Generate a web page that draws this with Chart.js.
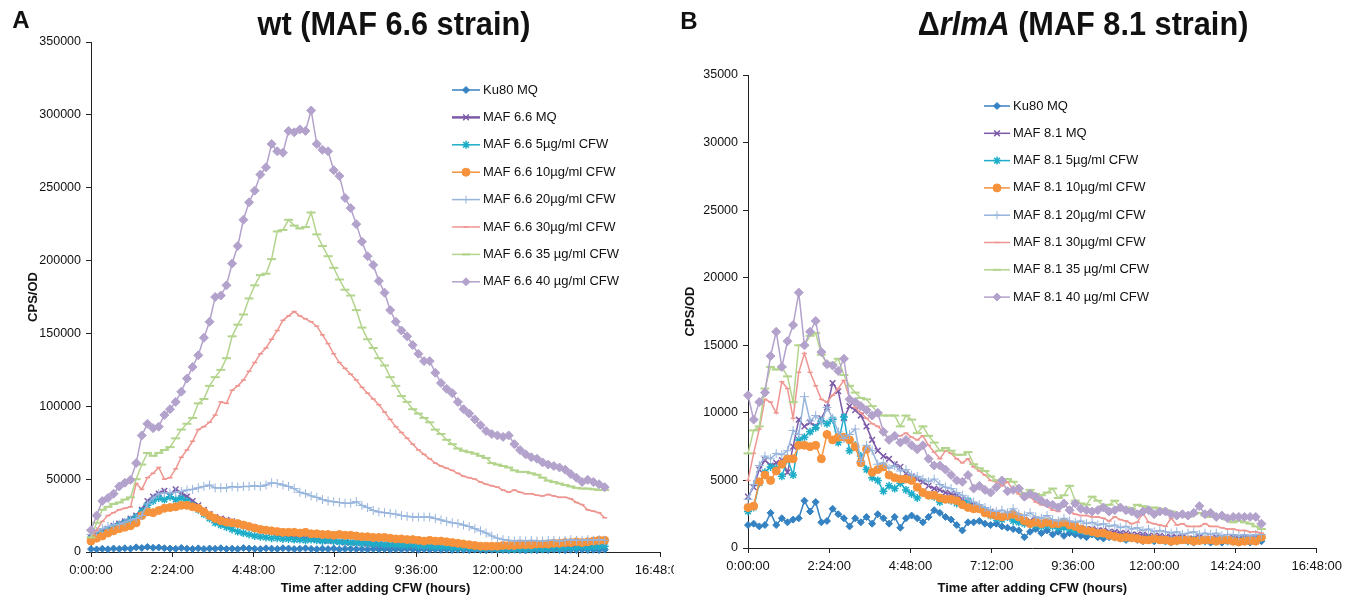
<!DOCTYPE html>
<html>
<head>
<meta charset="utf-8">
<script src="https://cdn.jsdelivr.net/npm/chart.js@4/dist/chart.umd.min.js"></script>
<style>
  html, body { margin: 0; padding: 0; background: #fff; }
  body { width: 1348px; height: 596px; position: relative; overflow: hidden; font-family: "Liberation Sans", Arial, sans-serif; color: #111; }
  canvas { position: absolute; top: 0; background: #fff; }
  #chartA { left: 0; z-index: 1; }
  #chartB { left: 674px; z-index: 2; }
  .lbl { position: absolute; font-weight: bold; white-space: nowrap; transform: translate(-50%, -50%); z-index: 3; }
  .panel { font-size: 24px; }
  .title { font-size: 33px; transform: translate(-50%, -50%) scaleX(0.93); }
</style>
</head>
<body>
<div class="lbl panel" style="left:21px; top:20px;">A</div>
<div class="lbl title" style="left:394px; top:24px;">wt (MAF 6.6 strain)</div>
<div class="lbl panel" style="left:689px; top:21px;">B</div>
<div class="lbl title" style="left:1083px; top:24px;">Δ<i>rlmA</i> (MAF 8.1 strain)</div>
<canvas id="chartA" width="700" height="596"></canvas>
<canvas id="chartB" width="674" height="596"></canvas>
<script>
// ============================================================
// DATA - sampling times (minutes after adding CFW) and ticks
// ============================================================
const minutes = [0,10,20,30,40,50,60,70,80,90, 100,110,120,130,140,150,160,170,180,190,
  200,210,220,230,240,250,260,270,280,290, 300,310,320,330,340,350,360,370,380,390,
  400,410,420,430,440,450,460,470,480,490, 500,510,520,530,540,550,560,570,580,590,
  600,610,620,630,640,650,660,670,680,690, 700,710,720,730,740,750,760,770,780,790,
  800,810,820,830,840,850,860,870,880,890, 900,910];
const xTickMinutes = [0, 144, 288, 432, 576, 720, 864, 1008];
const xTickLabels = ['0:00:00', '2:24:00', '4:48:00', '7:12:00', '9:36:00', '12:00:00', '14:24:00', '16:48:00'];
const yTicksA = [0, 50000, 100000, 150000, 200000, 250000, 300000, 350000];
const yTicksB = [0, 5000, 10000, 15000, 20000, 25000, 30000, 35000];

const labelsA = ['Ku80 MQ', 'MAF 6.6 MQ', 'MAF 6.6 5µg/ml CFW', 'MAF 6.6 10µg/ml CFW', 'MAF 6.6 20µg/ml CFW', 'MAF 6.6 30µg/ml CFW', 'MAF 6.6 35 µg/ml CFW', 'MAF 6.6 40 µg/ml CFW'];
const labelsB = ['Ku80 MQ', 'MAF 8.1 MQ', 'MAF 8.1 5µg/ml CFW', 'MAF 8.1 10µg/ml CFW', 'MAF 8.1 20µg/ml CFW', 'MAF 8.1 30µg/ml CFW', 'MAF 8.1 35 µg/ml CFW', 'MAF 8.1 40 µg/ml CFW'];

// panel A (wt, MAF 6.6) - CPS/OD
const aKu80 = [2000,1800,2200,1900,2400,2100,2600,2300,3200,2800,
  3500,2900,3100,2600,2400,2200,2800,2300,2100,2500,
  2000,2400,2200,2600,2100,2300,2000,2700,2400,2200,
  2000,2500,2300,2100,2600,2400,2000,2200,2500,2100,
  1900,2300,2000,2400,1800,2100,2200,1900,2000,1700,
  2100,1800,2000,1600,1900,1700,2000,1800,1500,1900,
  1600,1800,1500,1700,1400,1600,1500,1300,1600,1400,
  1200,1500,1300,1400,1200,1500,1300,1100,1400,1200,
  1500,1300,1600,1400,1200,1500,1300,1600,1400,1500,
  1300,1600];
const aMQ = [10000,12000,14000,16000,18000,19500,21000,23000,25000,29000,
  35000,38000,40000,42000,39000,43000,40000,38000,35000,32000,
  29000,26000,24000,23000,22000,21000,19500,18500,17500,16500,
  15500,14500,13500,12500,12000,11000,10500,10000,9500,9000,
  8500,8000,7500,7500,7000,6500,6500,6000,6000,5500,
  5500,5000,5000,4500,5000,4500,4500,4000,4500,4000,
  4000,4000,3500,3500,3500,3000,3000,3000,2500,2500,
  2500,2500,2500,2000,2500,2000,2000,2500,2000,2500,
  2500,3000,2500,3000,3000,3500,3000,3500,3500,4000,
  3500,4000];
const a5 = [9000,11000,13000,15000,17000,18500,20000,22000,24000,28000,
  32000,35000,37000,36000,38000,36000,37000,35000,32000,29000,
  26000,23000,20000,18500,17000,15500,14000,13000,12000,11000,
  10500,10000,9500,9500,9000,9000,8500,8500,8000,8500,
  8000,7500,8000,7500,7000,7000,6500,6500,6000,6000,
  5500,5500,5000,5000,5000,4500,4500,4500,4000,4000,
  4000,3500,3500,3500,3000,3000,3000,3000,2500,2500,
  2500,2500,2000,2000,2000,2000,2000,2000,2000,2500,
  2000,2500,2500,2500,3000,3000,3000,3500,3000,3500,
  3500,4000];
const a10 = [7500,9500,11000,13000,14500,16000,17000,18000,20000,25000,
  27500,27000,28500,30000,30500,31000,32000,32000,31000,30000,
  27500,25000,23000,21500,20500,20000,19500,18500,17500,16500,
  15500,15000,14500,14000,13500,13500,13500,13000,13500,12500,
  12500,12000,12000,11500,12000,11500,11500,11000,10500,10500,
  10000,10000,10000,9500,9000,9000,8500,8500,8000,7500,
  8000,7500,7500,7000,6500,6000,5500,5000,4500,4000,
  4000,4000,4000,4500,4500,4500,5000,5000,5000,5500,
  5500,5500,6000,6000,6500,6500,7000,6500,7000,7500,
  8000,8000];
const a20 = [12000,14000,16000,17500,18500,19000,20500,22000,23000,25000,
  33000,37000,40000,40500,40500,41000,41500,42500,43000,44000,
  45000,46000,44000,44000,44000,45000,44500,45000,45000,45500,
  45000,46000,47500,47000,46000,45000,43500,41000,40000,38500,
  37500,36000,35000,34500,34000,33500,33500,34500,32000,30500,
  28500,27500,27000,26500,26000,25000,24500,24000,24000,24000,
  24000,23000,22000,21000,20000,19500,18500,17500,16000,14500,
  13000,11000,9500,8500,8000,7500,8000,7500,8000,7500,
  7500,8000,8000,7500,8000,8500,8000,8000,8500,8000,
  8500,8000];
const a30 = [10000,15000,21000,25000,27000,29000,30000,31000,47000,43000,
  51000,54000,58000,50000,51000,57000,65000,70000,76000,84000,
  86000,89000,94000,103000,102000,111000,114000,118000,124000,130000,
  136000,140000,146000,152000,159000,162000,165000,162000,160000,158000,
  155000,149000,143000,136000,130000,126000,122000,118000,113000,109000,
  105000,101000,96000,91000,86000,82000,78000,74000,70000,67000,
  64000,61000,59000,57500,56000,54000,52000,51000,50000,48000,
  46500,45500,44500,42500,41000,42500,41000,40000,40000,39000,
  38500,39500,38500,37500,37500,36500,34000,32500,29000,28000,
  27000,23500];
const a35 = [10000,20000,29000,31000,33000,34000,36000,37500,50000,60000,
  68000,66000,68000,70000,72000,78000,84000,88000,92000,102000,
  105000,114000,120000,125000,133000,148000,156000,163000,174000,183000,
  190000,191000,201000,220000,221000,228000,224000,222000,223000,233000,
  218000,210000,203000,195000,187000,180000,176000,166000,154000,146000,
  140000,133000,128000,120000,114000,107000,103000,98000,95000,92000,
  89000,84000,81000,77000,74000,71000,69500,68500,67500,66000,
  64500,61000,60000,59000,58000,56000,55000,55000,54000,53000,
  51000,49000,48000,47000,46000,45000,44000,43500,43500,43000,
  42500,42500];
const a40 = [15000,25000,35000,37000,40000,45000,47500,49500,61000,80000,
  88000,85000,86000,94000,98000,103000,110000,119000,127000,135000,
  147000,158000,175000,176000,183000,198000,210000,228000,240000,248000,
  259000,264000,280000,275000,274000,289000,288000,290000,289000,303000,
  280000,276000,275000,262000,258000,243000,236000,225000,213000,203000,
  197000,186000,178000,166000,158000,152000,148000,142000,136000,131000,
  131000,123000,116000,112000,109000,103000,98000,95000,91000,87000,
  83000,81000,80000,79000,80000,74000,70000,67000,65000,64000,
  61500,60000,59000,58000,56500,53500,51000,48000,49500,48000,
  46500,44500];

// panel B (rlmA deletion, MAF 8.1) - CPS/OD
const bKu80 = [1700,1800,1600,1700,2600,1700,2200,1900,2100,2200,
  3500,2700,3400,1900,2000,2900,2500,2200,1600,2200,
  1900,2300,1800,2500,2200,1800,2300,1500,2200,2400,
  2200,1900,2300,2800,2600,2300,2100,1700,1300,1900,
  1900,2000,1800,1700,1800,1600,1500,1400,1300,800,
  1200,1400,1100,1300,1000,1200,900,1100,1000,900,
  800,1000,800,700,800,900,700,600,700,600,
  500,600,500,600,500,400,500,600,500,400,
  500,500,400,500,400,500,500,400,500,400,
  500,500];
const bMQ = [3800,4500,5800,6500,6100,6300,6500,5600,7500,9500,
  9000,9300,9000,9600,10400,12200,11600,9600,10500,10200,
  9800,9000,8000,7200,6800,6600,6200,6000,5500,5300,
  5100,4900,4600,4400,4300,4100,4000,3900,3600,3400,
  3200,2900,2800,2700,2500,2400,2300,2400,2200,2100,
  2000,2100,1900,1800,1900,1700,1600,1700,1500,1500,
  1400,1400,1300,1300,1200,1200,1100,1100,1000,1000,
  1000,900,900,900,800,800,800,800,700,700,
  800,700,700,800,700,700,800,700,800,700,
  800,800];
const b5 = [2700,3000,4800,5600,6000,5900,5300,6600,5400,8000,
  8200,8600,8900,9400,9200,9500,7800,9700,7200,7600,
  6800,5800,5200,5000,4200,4600,4400,4800,4300,4000,
  3700,4100,3900,3800,3400,3600,3500,3300,3200,3500,
  2900,3000,2800,2400,2200,2100,2300,2000,1900,1800,
  1800,1700,1600,1700,1600,1500,1500,1400,1300,1300,
  1200,1100,1000,1000,900,800,800,700,800,700,
  600,700,600,600,500,600,500,600,500,600,
  600,500,600,500,600,500,600,500,600,500,
  600,700];
const b10 = [3000,3100,4900,5400,5000,5700,6200,6600,6600,7600,
  7600,7500,7600,6600,8400,8000,8200,8200,8000,7500,
  6300,7300,5600,5800,6000,5400,5200,5100,5100,5000,
  4500,4100,3900,3900,3700,3600,3600,3500,3200,3000,
  2900,2900,2600,2500,2400,2300,2400,2500,2300,2000,
  1800,1900,1800,1900,1800,1800,1900,1700,1600,1400,
  1300,1200,1100,1100,950,850,750,800,750,700,
  600,600,700,600,600,500,550,600,600,500,
  550,600,600,500,600,600,500,450,500,550,
  500,800];
const b20 = [3600,4700,6100,6800,6600,7000,6900,7200,8700,8400,
  11200,9400,9800,9300,10400,9600,8600,8100,8400,8800,
  6400,7600,7200,6200,6300,5900,6100,5700,5800,5400,
  5300,5100,4900,5100,4700,4500,4400,4100,3900,3600,
  3400,3200,3000,2800,2700,2800,2600,2900,2500,2400,
  2600,2300,2200,2400,2100,2000,2200,2000,1900,2000,
  1800,1900,1700,1800,1600,1700,1500,1600,1400,1500,
  1300,1400,1200,1300,1200,1100,1200,1000,1100,1200,
  1000,1100,1000,1100,900,1000,1000,900,1000,900,
  1000,1000];
const b30 = [5000,7000,8800,11000,10800,10000,12300,11800,9600,13000,
  14400,13000,12000,11000,10800,11300,11800,12400,11100,10400,
  10000,9600,9200,9000,8600,8000,8300,8300,8500,8200,
  8000,8300,7600,7100,6600,7200,7000,6600,6300,6600,
  6000,5700,5400,5000,4900,4600,4900,4300,4000,3600,
  3800,3400,3200,3100,2800,2700,3400,2700,2500,2400,
  2400,2300,2300,2200,2000,2300,2100,2000,1800,1900,
  2600,1900,1800,1700,1600,2200,1700,1800,1600,1600,
  1600,1800,1600,1600,1500,1400,1400,1300,1300,1200,
  1200,1100];
const b35 = [7000,8700,9000,11800,13400,13200,13400,12700,10800,15000,
  15000,15700,15900,14300,13700,13600,14000,12800,12000,11500,
  11100,11000,10500,10000,9800,9800,9800,9000,9800,9500,
  8500,9000,8300,7800,7200,7400,7200,6900,6900,7100,
  6200,5900,5700,5300,5000,5000,5100,4900,4400,4000,
  4300,4000,3900,4100,4400,3700,3900,4600,3500,3300,
  3200,3800,3500,3100,3200,3500,3000,3000,2900,3200,
  3100,2900,3000,2900,2800,2700,2500,2400,2300,2500,
  2600,2400,2300,2400,2300,2100,1900,2000,1900,1800,
  1600,1400];
const b40 = [11300,9500,10800,11500,14200,16000,13400,15300,16500,18900,
  15000,16000,16800,14500,13600,13500,13100,14000,11000,10800,
  10500,10200,9800,10000,8600,8000,8300,7800,8000,7600,
  7300,7600,6600,6100,6100,5800,5400,5000,4900,5400,
  4400,4600,4300,4100,4500,5000,4200,4300,4400,3800,
  4000,3800,3500,3300,3200,3000,3300,2800,3300,2900,
  2800,2700,2800,3000,2700,2800,3000,2800,2700,2500,
  2700,2800,2500,2700,2700,2500,2400,2500,2400,2600,
  3100,2500,2600,2300,2400,2200,2300,2300,2300,2300,
  2300,1800];

// ============================================================
// STYLES (one per series, same order in both panels)
// ============================================================
const seriesStyles = [
  { color: '#3482c2', pointStyle: 'rectRot', radius: 3.5, line: 1.5, pointBorder: 1 },
  { color: '#7d5aa8', pointStyle: 'crossRot', radius: 4, line: 1.5, pointBorder: 1.5 },
  { color: '#1eadc8', pointStyle: 'star', radius: 4, line: 1.5, pointBorder: 1.5 },
  { color: '#f7923c', pointStyle: 'circle', radius: 4, line: 1.5, pointBorder: 1 },
  { color: '#97b4dc', pointStyle: 'cross', radius: 4.5, line: 1.5, pointBorder: 1 },
  { color: '#ee9590', pointStyle: 'line', radius: 2.5, line: 1.5, pointBorder: 1.5 },
  { color: '#b3d48d', pointStyle: 'line', radius: 4.5, line: 1.5, pointBorder: 2 },
  { color: '#b3a2cc', pointStyle: 'rectRot', radius: 4.5, line: 1.5, pointBorder: 1 }
];

function buildDatasets(labels, valueLists, thickMQ) {
  return valueLists.map(function(values, k) {
    const st = seriesStyles[k];
    return {
      label: labels[k],
      data: minutes.map(function(m, i) { return { x: m, y: values[i] }; }),
      borderColor: st.color,
      backgroundColor: st.color,
      pointBackgroundColor: st.color,
      pointBorderColor: st.color,
      borderWidth: (k === 1 && thickMQ) ? 2.5 : st.line,
      pointStyle: st.pointStyle,
      pointRadius: st.radius,
      pointBorderWidth: st.pointBorder,
      pointHoverRadius: st.radius,
      tension: 0,
      clip: false,
      order: valueLists.length - k   // later series drawn on top, like the original
    };
  });
}

// ============================================================
// LEGEND drawn inside the plot
// ============================================================
const sideLegend = {
  id: 'sideLegend',
  afterDraw: function(chart, args, opts) {
    const ctx = chart.ctx;
    ctx.save();
    chart.data.datasets.forEach(function(ds, i) {
      const y = opts.top + i * opts.step;
      const x0 = opts.left, x1 = opts.left + opts.lineLen;
      ctx.strokeStyle = ds.borderColor;
      ctx.lineWidth = ds.borderWidth;
      ctx.beginPath();
      ctx.moveTo(x0, y);
      ctx.lineTo(x1, y);
      ctx.stroke();
      ctx.fillStyle = ds.pointBackgroundColor;
      ctx.strokeStyle = ds.pointBorderColor;
      ctx.lineWidth = ds.pointBorderWidth;
      Chart.helpers.drawPoint(ctx, {
        pointStyle: ds.pointStyle, radius: Math.min(ds.pointRadius, 4), rotation: 0, borderWidth: ds.pointBorderWidth
      }, (x0 + x1) / 2, y);
      ctx.fillStyle = '#111';
      ctx.font = opts.font;
      ctx.textAlign = 'left';
      ctx.textBaseline = 'middle';
      ctx.fillText(ds.label, x1 + opts.textGap, y);
    });
    ctx.restore();
  }
};

const FONT = '"Liberation Sans", Arial, sans-serif';

function makeOptions(yTicks, yMax, pad, xHeight, legendOpts) {
  return {
    responsive: false,
    animation: false,
    events: [],
    layout: { padding: pad },
    plugins: {
      legend: { display: false },
      tooltip: { enabled: false },
      sideLegend: legendOpts
    },
    scales: {
      x: {
        type: 'linear',
        min: 0,
        max: 1008,
        afterBuildTicks: function(s) { s.ticks = xTickMinutes.map(function(v) { return { value: v }; }); },
        afterFit: function(s) { s.height = xHeight; },
        ticks: {
          autoSkip: false, maxRotation: 0, color: '#111', padding: 6,
          font: { family: FONT, size: 13 },
          callback: function(v) { return xTickLabels[xTickMinutes.indexOf(v)]; }
        },
        grid: { display: true, drawOnChartArea: false, drawTicks: true, tickLength: 5, color: '#222' },
        border: { display: true, color: '#222', width: 1 },
        title: {
          display: true, text: 'Time after adding CFW (hours)', color: '#111',
          font: { family: FONT, size: 13, weight: 'bold' }, padding: { top: 0, bottom: 0 }
        }
      },
      y: {
        min: 0,
        max: yMax,
        afterBuildTicks: function(s) { s.ticks = yTicks.map(function(v) { return { value: v }; }); },
        afterFit: function(s) { s.width = 65; },
        ticks: {
          color: '#111', padding: 5,
          font: { family: FONT, size: 12.5 },
          callback: function(v) { return String(v); }
        },
        grid: { display: true, drawOnChartArea: false, drawTicks: true, tickLength: 5, color: '#222' },
        border: { display: true, color: '#222', width: 1 },
        title: {
          display: true, text: 'CPS/OD', color: '#111',
          font: { family: FONT, size: 13, weight: 'bold' }, padding: { top: 0, bottom: 0 }
        }
      }
    }
  };
}

document.addEventListener('DOMContentLoaded', function() {
  'use strict';

  // ---------------- Panel A ----------------
  new Chart(document.getElementById('chartA').getContext('2d'), {
    type: 'line',
    data: { datasets: buildDatasets(labelsA, [aKu80, aMQ, a5, a10, a20, a30, a35, a40], true) },
    options: makeOptions(yTicksA, 350000, { left: 26, top: 42, right: 40, bottom: 0 }, 44,
      { left: 452, top: 90, step: 27.4, lineLen: 28, textGap: 3, font: '13px ' + FONT }),
    plugins: [sideLegend]
  });

  // ---------------- Panel B ----------------
  new Chart(document.getElementById('chartB').getContext('2d'), {
    type: 'line',
    data: { datasets: buildDatasets(labelsB, [bKu80, bMQ, b5, b10, b20, b30, b35, b40], false) },
    options: makeOptions(yTicksB, 35000, { left: 9, top: 75, right: 28, bottom: 0 }, 48,
      { left: 310, top: 106, step: 27.3, lineLen: 26, textGap: 3, font: '13px ' + FONT }),
    plugins: [sideLegend]
  });
});
</script>
</body>
</html>
